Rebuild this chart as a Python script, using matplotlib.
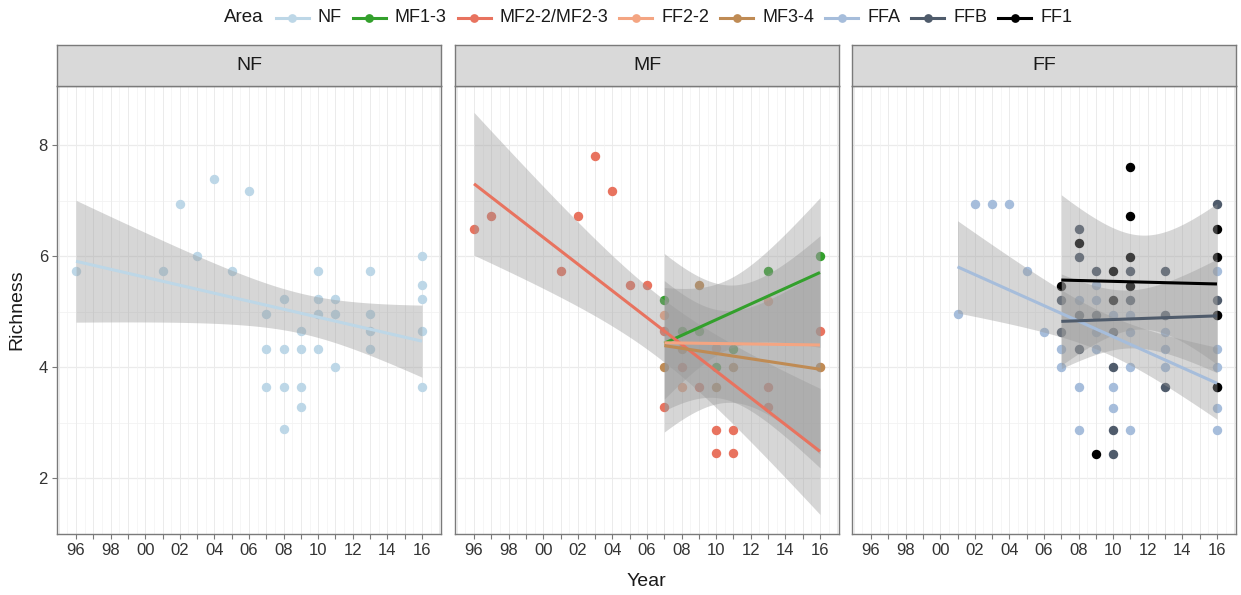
import numpy as np
import matplotlib
matplotlib.use("Agg")
import matplotlib.pyplot as plt
from matplotlib.lines import Line2D

plt.rcParams['font.family'] = ['Liberation Sans', 'DejaVu Sans']

# ---- data -------------------------------------------------------------
areas = ["NF", "MF1-3", "MF2-2/MF2-3", "FF2-2", "MF3-4", "FFA", "FFB", "FF1"]
area_colors = ["#BDD7E7", "#33A02C", "#E8735F", "#F4A582", "#BF8B54",
               "#A6BDDB", "#4F5B6B", "#000000"]
facets = ["NF", "MF", "FF"]
facet_of_area = ["NF", "MF", "MF", "MF", "MF", "FF", "FF", "FF"]

nf_year = [1996, 2001, 2002, 2003, 2004, 2005, 2006,
           2007, 2007, 2007,
           2008, 2008, 2008, 2008,
           2009, 2009, 2009, 2009,
           2010, 2010, 2010, 2010,
           2011, 2011, 2011,
           2013, 2013, 2013, 2013,
           2016, 2016, 2016, 2016, 2016]
nf_rich = [5.74, 5.74, 6.95, 6.00, 7.39, 5.74, 7.17,
           4.96, 4.34, 3.65,
           5.23, 4.34, 3.65, 2.89,
           4.65, 4.34, 3.65, 3.28,
           5.74, 5.23, 4.96, 4.34,
           5.23, 4.96, 4.00,
           5.74, 4.96, 4.65, 4.34,
           6.00, 5.48, 5.23, 4.65, 3.65]

mf13_year = [2007, 2008, 2009, 2010, 2011, 2013, 2016]
mf13_rich = [5.22, 4.65, 4.65, 4.00, 4.33, 5.74, 6.00]

mf22_year = [1996, 1997, 2001, 2002, 2003, 2004, 2005, 2006, 2007, 2007,
             2008, 2009, 2010, 2010, 2011, 2011, 2013, 2013, 2016]
mf22_rich = [6.50, 6.72, 5.74, 6.72, 7.81, 7.18, 5.48, 5.48, 4.65, 3.28,
             4.00, 3.64, 2.88, 2.46, 2.88, 2.46, 3.64, 3.28, 4.65]

ff22_year = [2007, 2008, 2010, 2013, 2016]
ff22_rich = [4.95, 3.64, 4.35, 5.20, 4.00]

mf34_year = [2007, 2008, 2009, 2010, 2011, 2016]
mf34_rich = [4.00, 4.34, 5.48, 3.64, 4.00, 4.00]

ffa_year = [2001, 2002, 2003, 2004, 2005, 2006, 2007, 2007,
            2008, 2008, 2008, 2009, 2009, 2009, 2009,
            2010, 2010, 2010, 2011, 2011, 2011, 2011,
            2013, 2013, 2013, 2013, 2016, 2016, 2016, 2016, 2016]
ffa_rich = [4.96, 6.95, 6.95, 6.95, 5.74, 4.64, 4.34, 4.00,
            5.22, 3.64, 2.88, 5.48, 5.22, 4.64, 4.34,
            4.95, 3.64, 3.27, 4.95, 4.64, 4.00, 2.88,
            4.95, 4.64, 4.34, 4.00, 5.74, 4.34, 4.00, 3.27, 2.88]

ffb_year = [2007, 2007, 2008, 2008, 2008, 2008, 2009, 2009,
            2010, 2010, 2010, 2010, 2011, 2011, 2013, 2013, 2013,
            2016, 2016, 2016, 2016]
ffb_rich = [5.22, 4.64, 6.49, 5.99, 4.95, 4.34, 5.74, 4.95,
            4.64, 4.00, 2.88, 2.45, 5.74, 5.22, 5.74, 4.95, 3.64,
            6.95, 5.22, 4.95, 3.64]

ff1_year = [2007, 2008, 2009, 2010, 2010, 2011, 2011, 2011, 2011,
            2016, 2016, 2016, 2016]
ff1_rich = [5.47, 6.25, 2.45, 5.74, 5.22, 7.61, 6.72, 5.99, 5.47,
            6.49, 5.99, 4.95, 3.64]

area_years = [nf_year, mf13_year, mf22_year, ff22_year, mf34_year,
              ffa_year, ffb_year, ff1_year]
area_rich = [nf_rich, mf13_rich, mf22_rich, ff22_rich, mf34_rich,
             ffa_rich, ffb_rich, ff1_rich]

tick_years = list(range(1996, 2017))
y_ticks = [2, 4, 6, 8]


# ---- helpers ------------------------------------------------------------
def t_quantile_975(df):
    """Cornish-Fisher approximation of the 97.5% Student-t quantile."""
    z = 1.959964
    return (z + (z**3 + z) / (4 * df)
            + (5 * z**5 + 16 * z**3 + 3 * z) / (96 * df**2)
            + (3 * z**7 + 19 * z**5 + 17 * z**3 - 15 * z) / (384 * df**3))


def lm_band(x, y, n_grid=80):
    """Least-squares line with its 95% confidence band."""
    x = np.asarray(x, float)
    y = np.asarray(y, float)
    n = len(x)
    xm = x.mean()
    sxx = ((x - xm) ** 2).sum()
    b = ((x - xm) * (y - y.mean())).sum() / sxx
    a = y.mean() - b * xm
    resid = y - (a + b * x)
    s = np.sqrt((resid ** 2).sum() / (n - 2))
    xg = np.linspace(x.min(), x.max(), n_grid)
    fit = a + b * xg
    se = s * np.sqrt(1.0 / n + (xg - xm) ** 2 / sxx)
    t = t_quantile_975(n - 2)
    return xg, fit, fit - t * se, fit + t * se


# ---- figure layout (pixel based) -------------------------------------------
W, H, DPI = 1241, 595, 100
fig = plt.figure(figsize=(W / DPI, H / DPI), dpi=DPI)
fig.patch.set_facecolor("white")

panel_left = [57, 455, 852]
panel_w = 384
panel_top, panel_bot = 86, 534
strip_top = 45
edge_col = "#7A7A7A"


def fx(px):
    return px / W


def fy(py):
    return 1 - py / H


axes = []
for i, name in enumerate(facets):
    L = panel_left[i]
    ax = fig.add_axes([fx(L), fy(panel_bot), panel_w / W, (panel_bot - panel_top) / H])
    ax.set_xlim(1994.9, 2017.1)
    ax.set_ylim(1.0, 9.07)
    ax.set_facecolor("white")
    # grid
    for yv in [2, 4, 6, 8]:
        ax.axhline(yv, color="#EBEBEB", lw=0.9, zorder=0)
    for yv in [3, 5, 7]:
        ax.axhline(yv, color="#F3F3F3", lw=0.6, zorder=0)
    for xv in np.arange(1995, 2017.5, 1.0):
        ax.axvline(xv, color="#EBEBEB", lw=0.7, zorder=0)
    for xv in np.arange(1994.5, 2017.5, 1.0):
        ax.axvline(xv, color="#F3F3F3", lw=0.5, zorder=0)
    for sp in ax.spines.values():
        sp.set_color(edge_col)
        sp.set_linewidth(1.0)
        sp.set_zorder(10)
    ax.set_xticks(tick_years)
    ax.set_xticklabels([f"{y % 100:02d}" if y % 2 == 0 else "" for y in tick_years])
    ax.tick_params(axis="x", length=3.5, width=0.8, color=edge_col, pad=3,
                   labelsize=12, labelcolor="#333333")
    if i == 0:
        ax.set_yticks(y_ticks)
        ax.set_yticklabels([str(v) for v in y_ticks])
        ax.tick_params(axis="y", length=3.5, width=0.8, color=edge_col, pad=3,
                       labelsize=12, labelcolor="#333333")
    else:
        ax.set_yticks([])
    axes.append(ax)

    # strip
    sax = fig.add_axes([fx(L), fy(panel_top), panel_w / W, (panel_top - strip_top) / H])
    sax.set_facecolor("#D9D9D9")
    sax.set_xticks([])
    sax.set_yticks([])
    for sp in sax.spines.values():
        sp.set_color(edge_col)
        sp.set_linewidth(1.0)
    sax.text(0.5, 0.5, name, ha="center", va="center", fontsize=14,
             color="#1A1A1A", transform=sax.transAxes)

# points, then confidence ribbons, then fitted lines on top
for k, area in enumerate(areas):
    ax = axes[facets.index(facet_of_area[k])]
    ax.scatter(area_years[k], area_rich[k], s=46, color=area_colors[k],
               linewidths=0, zorder=2)

fits = []
for k, area in enumerate(areas):
    ax = axes[facets.index(facet_of_area[k])]
    xg, fit, lo, hi = lm_band(area_years[k], area_rich[k])
    ax.fill_between(xg, lo, hi, color="#999999", alpha=0.4, linewidth=0, zorder=3)
    fits.append((ax, xg, fit))

for k, (ax, xg, fit) in enumerate(fits):
    ax.plot(xg, fit, color=area_colors[k], lw=2.2, zorder=4, solid_capstyle="butt")

# axis titles
fig.text(fx((panel_left[0] + panel_left[2] + panel_w) / 2), fy(581), "Year",
         ha="center", va="center", fontsize=14, color="#1A1A1A")
fig.text(fx(17), fy((panel_top + panel_bot) / 2), "Richness", rotation=90,
         ha="center", va="center", fontsize=14, color="#1A1A1A")

# legend across the top
renderer = fig.canvas.get_renderer()
leg_y = 18
x_cur = 224
t = fig.text(fx(x_cur), fy(leg_y), "Area", ha="left", va="center",
             fontsize=13.5, color="#1A1A1A")
x_cur = t.get_window_extent(renderer).x1 + 12
key_w = 33
for k, area in enumerate(areas):
    fig.add_artist(Line2D([fx(x_cur), fx(x_cur + key_w)], [fy(leg_y), fy(leg_y)],
                          color=area_colors[k], lw=2.2, transform=fig.transFigure))
    fig.add_artist(Line2D([fx(x_cur + key_w / 2)], [fy(leg_y)], marker="o",
                          markersize=6.3, markeredgewidth=0, color=area_colors[k],
                          transform=fig.transFigure))
    tx = fig.text(fx(x_cur + key_w + 9), fy(leg_y), area, ha="left", va="center",
                  fontsize=13, color="#1A1A1A")
    x_cur = tx.get_window_extent(renderer).x1 + 11

fig.savefig("out.png", dpi=DPI, facecolor="white")
